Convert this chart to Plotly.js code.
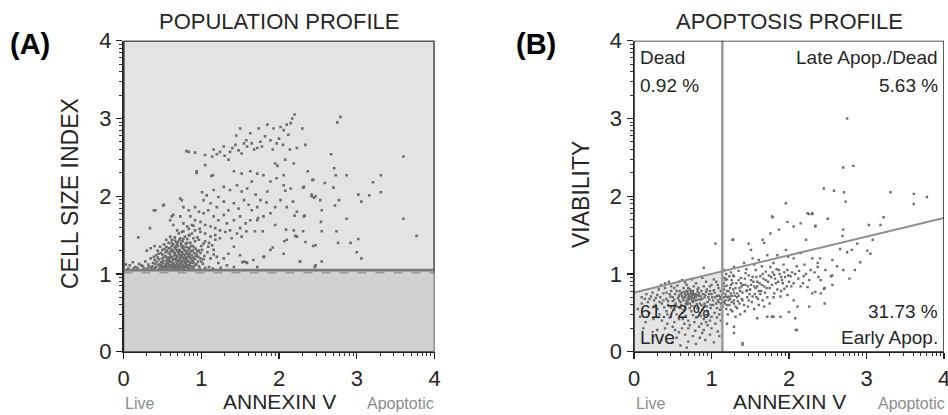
<!DOCTYPE html>
<html>
<head>
<meta charset="utf-8">
<script src="https://cdn.plot.ly/plotly-3.0.1.min.js"></script>
<style>html,body{margin:0;padding:0;background:#fff;}#chart{width:948px;height:415px;}</style>
</head>
<body>
<div id="chart"></div>
<script>
// ---------- DATA ----------
const axisTicks = [0, 1, 2, 3, 4];
const axisTickText = ['0', '1', '2', '3', '4'];

// Panel A: population profile (Annexin V vs Cell Size Index)
const popGateY = 1.05;
const popCluster = [
[0.45,1.12],[0.48,1.15],[0.52,1.10],[0.55,1.13],[0.58,1.17],[0.61,1.11],[0.64,1.14],[0.67,1.19],[0.70,1.12],[0.73,1.16],
[0.76,1.10],[0.79,1.14],[0.82,1.18],[0.85,1.12],[0.88,1.15],[0.92,1.11],[0.50,1.20],[0.54,1.23],[0.57,1.19],[0.60,1.25],
[0.63,1.21],[0.66,1.27],[0.69,1.22],[0.72,1.28],[0.75,1.24],[0.78,1.20],[0.81,1.26],[0.84,1.23],[0.87,1.29],[0.90,1.21],
[0.94,1.25],[0.56,1.30],[0.60,1.33],[0.64,1.29],[0.68,1.35],[0.71,1.31],[0.74,1.37],[0.77,1.33],[0.80,1.39],[0.83,1.34],
[0.86,1.40],[0.89,1.36],[0.93,1.32],[0.62,1.40],[0.66,1.43],[0.70,1.41],[0.73,1.46],[0.76,1.42],[0.79,1.48],[0.82,1.45],
[0.85,1.50],[0.40,1.18],[0.42,1.24],[0.38,1.14],[0.35,1.20],[0.32,1.12],[0.28,1.16],[0.25,1.10],[0.20,1.13],[0.15,1.09],
[0.12,1.15],[0.08,1.11],[0.44,1.30],[0.47,1.35],[0.40,1.36],[0.35,1.33],[0.30,1.30],[0.52,1.38],[0.55,1.44],[0.58,1.40],
[0.48,1.27],[0.53,1.32],[0.96,1.16],[0.99,1.20],[1.02,1.13],[0.97,1.30],[1.00,1.36],[0.92,1.42],[0.95,1.47],[0.88,1.52],
[0.65,1.08],[0.62,1.07],[0.71,1.07],[0.74,1.09],[0.78,1.08],[0.57,1.08],[0.53,1.07],[0.49,1.08],[0.46,1.07],[0.42,1.09],
[0.83,1.08],[0.86,1.07],[0.90,1.08],[0.98,1.07],[1.05,1.08],[1.10,1.09],[1.15,1.07],[1.25,1.08],[0.30,1.07],[0.36,1.08],
[0.26,1.07],[0.18,1.08],[0.06,1.07],[0.03,1.12],[0.68,1.16],[0.65,1.24],[0.59,1.21],[0.70,1.28],[0.79,1.30],[0.83,1.27],
[0.76,1.17],[0.60,1.15],[0.73,1.20],[0.67,1.32],[0.55,1.17],[0.51,1.14],[0.62,1.36],[0.69,1.38],[0.75,1.34],[0.81,1.21],
[0.87,1.19],[0.91,1.27],[0.58,1.27],[0.64,1.19],[0.72,1.24],[0.77,1.26],[0.85,1.33],[0.80,1.13],[0.63,1.12],[0.69,1.10],
[0.56,1.10],[0.47,1.11],[0.44,1.21],[0.50,1.25],[0.66,1.47],[0.60,1.48],[0.71,1.52],[0.77,1.55],[0.84,1.58],[0.90,1.62],
[0.98,1.58],[1.05,1.42],[1.08,1.28],[1.04,1.23],[1.12,1.20],[1.16,1.25],[1.20,1.22],[1.10,1.40],[1.14,1.37],[1.18,1.50],
[0.37,1.10],[0.39,1.22],[0.41,1.13],[0.43,1.16],[0.45,1.26],[0.46,1.19],[0.49,1.12],[0.50,1.31],[0.51,1.17],[0.52,1.22],
[0.54,1.11],[0.54,1.28],[0.55,1.35],[0.56,1.21],[0.57,1.14],[0.58,1.33],[0.59,1.11],[0.59,1.18],[0.61,1.29],[0.61,1.22],
[0.62,1.16],[0.62,1.44],[0.63,1.10],[0.63,1.31],[0.64,1.38],[0.65,1.13],[0.65,1.19],[0.66,1.35],[0.67,1.11],[0.67,1.24],
[0.68,1.41],[0.68,1.20],[0.69,1.14],[0.69,1.30],[0.70,1.17],[0.70,1.36],[0.71,1.25],[0.71,1.11],[0.72,1.44],[0.72,1.19],
[0.73,1.13],[0.73,1.30],[0.74,1.22],[0.74,1.40],[0.75,1.15],[0.75,1.28],[0.76,1.36],[0.76,1.12],[0.77,1.21],[0.77,1.45],
[0.78,1.17],[0.78,1.31],[0.79,1.24],[0.79,1.10],[0.80,1.35],[0.80,1.19],[0.81,1.15],[0.81,1.29],[0.82,1.40],[0.82,1.11],
[0.83,1.22],[0.84,1.16],[0.84,1.31],[0.85,1.26],[0.86,1.14],[0.86,1.21],[0.87,1.36],[0.88,1.10],[0.88,1.24],[0.89,1.30],
[0.89,1.17],[0.90,1.14],[0.91,1.34],[0.92,1.19],[0.93,1.23],[0.94,1.13],[0.95,1.29],[0.96,1.22],[0.97,1.10],[0.99,1.27],
[1.00,1.16],[1.01,1.31],[1.03,1.19],[0.60,1.09],[0.66,1.09],[0.72,1.09],[0.55,1.09],[0.48,1.10],[0.51,1.09],[0.80,1.09],
[0.84,1.10],[0.76,1.08],[0.68,1.08],[0.40,1.08],[0.33,1.09],[0.23,1.11],[0.13,1.07]
];
const popBand = [
[1.29,2.12],[1.37,2.08],[1.46,2.14],[1.52,2.06],[1.59,2.10],[1.65,2.19],[1.70,2.02],[1.76,1.95],[1.85,2.06],[1.22,1.99],
[1.16,2.08],[1.07,2.01],[1.03,1.95],[1.12,1.91],[1.20,1.86],[1.29,1.93],[1.35,1.82],[1.42,1.91],[1.48,1.84],[1.55,1.95],
[1.61,1.89],[1.65,1.82],[1.72,1.86],[0.92,1.86],[0.97,1.80],[1.03,1.78],[1.09,1.82],[1.16,1.74],[1.22,1.69],[1.29,1.76],
[1.33,1.65],[1.42,1.69],[1.50,1.74],[1.57,1.65],[1.63,1.69],[0.75,1.95],[0.77,1.86],[0.84,1.82],[0.86,1.74],[0.92,1.69],
[0.99,1.67],[1.05,1.63],[1.12,1.61],[1.18,1.59],[1.24,1.56],[1.31,1.54],[1.37,1.56],[1.46,1.52],[1.52,1.48],[0.73,1.74],
[0.77,1.65],[0.82,1.61],[0.88,1.63],[0.92,1.56],[0.99,1.54],[1.05,1.52],[1.12,1.48],[1.18,1.44],[1.24,1.46],[0.64,1.76],
[0.60,1.69],[0.41,1.82],[0.52,1.89],[0.64,1.63],[0.69,1.56],[0.75,1.54],[0.84,1.50],[0.90,1.46],[0.97,1.44],[1.03,1.39],
[1.09,1.35],[1.16,1.31],[1.72,1.69],[1.80,1.74],[1.89,1.78],[1.95,1.86],[2.02,1.95],[2.10,1.86],[2.23,1.80],[2.32,1.74],
[2.19,1.56],[2.10,1.44],[2.23,1.48],[2.34,1.41],[2.47,1.37],[2.06,1.26],[1.89,1.31],[1.80,1.22],[1.67,1.18],[1.50,1.24],
[1.42,1.35],[1.55,1.16],[1.72,1.09],[1.59,1.14],[2.27,1.16],[2.47,1.11],[1.35,1.26],[1.29,1.20],[1.22,1.14],[1.33,1.11],
[1.42,1.09],[0.19,1.47],[0.34,1.59],[0.39,1.82],[0.51,1.88],[0.62,1.74],[0.73,1.97],[1.01,2.05],[1.39,1.46],[1.50,1.59]
];
const popArc = [
[2.20,3.05],[2.17,3.00],[2.15,2.94],[1.50,2.87],[1.63,2.81],[1.74,2.87],[1.85,2.92],[1.93,2.87],[2.02,2.89],[2.10,2.92],
[0.84,2.57],[0.92,2.56],[1.05,2.53],[1.14,2.51],[1.16,2.60],[1.24,2.57],[1.29,2.64],[1.37,2.57],[1.44,2.66],[1.48,2.59],
[1.52,2.55],[1.59,2.64],[1.65,2.68],[1.72,2.62],[1.76,2.70],[1.82,2.77],[1.89,2.72],[1.97,2.68],[2.00,2.74],[2.06,2.85],
[2.12,2.79],[2.30,2.87],[2.34,2.66],[2.23,2.62],[2.14,2.60],[1.95,2.42],[1.98,2.39],[2.08,2.47],[2.19,2.42],[2.37,2.32],
[2.44,2.21],[1.35,2.47],[0.94,2.32],[1.05,2.40],[1.15,2.27],[1.42,2.32],[1.52,2.29],[1.63,2.32],[1.72,2.29],[1.80,2.27],
[1.89,2.19],[1.97,2.23],[2.06,2.14],[2.15,2.10],[2.32,2.12],[2.42,2.02],[2.47,2.00],[0.81,2.58],[0.94,2.30],[1.13,2.26],
[1.58,2.72],[1.68,2.60],[1.40,2.62],[1.55,2.68],[1.78,2.64],[1.92,2.60],[2.05,2.66],[1.30,2.52],[1.20,2.54],[1.45,2.78]
];
const popSparse = [
[3.60,2.51],[3.60,1.71],[3.77,1.49],[2.79,3.02],[2.75,2.95],[2.67,2.54],[2.71,2.36],[2.73,2.27],[2.87,2.27],[2.70,2.11],
[2.72,1.88],[2.77,1.95],[2.87,1.71],[3.02,2.02],[3.06,1.93],[3.16,2.01],[3.21,2.18],[3.31,2.27],[3.31,2.05],[3.02,1.45],
[2.92,1.40],[2.76,1.40],[2.74,1.55],[3.00,1.28],[3.06,1.20],[2.55,1.55],[2.44,1.36],[2.46,1.09],[2.55,1.16],[2.27,1.16],
[2.31,1.55],[2.21,1.49],[2.55,1.82],[2.53,1.95],[2.42,2.00],[2.43,2.21],[2.59,2.17],[2.54,1.67],[2.33,1.75],[2.45,1.98],
[2.31,2.11],[2.18,1.93],[2.20,1.75],[2.09,1.57],[2.07,1.42],[1.92,1.34],[1.81,1.22],[1.95,1.63],[1.84,1.92],[2.08,2.07],
[2.06,2.27],[1.58,1.15],[1.53,1.15],[1.69,1.55],[1.58,1.55],[1.79,1.55],[1.73,1.72]
];

// Panel B: apoptosis profile (Annexin V vs Viability)
const apoQuadX = 1.14;
const apoLineY = [0.76, 1.72];   // dividing line at Annexin V = 0 and 4
const apoQuadLabels = ['Dead', '0.92 %', 'Late Apop./Dead', '5.63 %', '61.72 %', 'Live', '31.73 %', 'Early Apop.'];
const apoLive = [
[0.75,0.72],[0.70,0.74],[0.80,0.70],[0.66,0.70],[0.84,0.75],[0.62,0.76],[0.73,0.78],[0.78,0.66],[0.88,0.68],[0.58,0.72],
[0.68,0.66],[0.92,0.73],[0.55,0.78],[0.82,0.80],[0.64,0.82],[0.96,0.70],[1.00,0.74],[1.05,0.70],[1.08,0.66],[1.10,0.72],
[0.50,0.70],[0.46,0.74],[0.42,0.68],[0.38,0.75],[0.34,0.70],[0.30,0.73],[0.26,0.66],[0.22,0.71],[0.18,0.64],[0.14,0.68],
[0.10,0.62],[0.60,0.64],[0.72,0.62],[0.85,0.62],[0.95,0.64],[1.02,0.60],[1.07,0.56],[0.90,0.58],[0.78,0.58],[0.66,0.58],
[0.54,0.62],[0.44,0.60],[0.36,0.62],[0.56,0.85],[0.68,0.86],[0.80,0.88],[0.90,0.84],[1.00,0.86],[1.06,0.90],[0.48,0.84],
[0.40,0.82],[0.32,0.80],[0.95,0.52],[0.85,0.50],[0.74,0.52],[0.62,0.50],[0.52,0.54],[0.42,0.52],[0.30,0.55],[0.20,0.50],
[1.10,0.48],[1.00,0.45],[0.90,0.42],[0.80,0.44],[0.70,0.40],[0.58,0.42],[0.46,0.44],[0.36,0.40],[0.25,0.42],[0.15,0.38],
[1.05,0.36],[0.95,0.34],[0.84,0.32],[0.72,0.34],[0.62,0.30],[0.50,0.32],[0.40,0.30],[0.30,0.28],[1.08,0.26],[0.98,0.22],
[0.88,0.24],[0.76,0.20],[0.66,0.22],[0.55,0.18],[0.45,0.22],[1.03,0.12],[0.92,0.15],[0.80,0.10],[0.70,0.13],[0.60,0.08],
[0.50,0.12],[0.35,0.15],[0.25,0.20],[0.12,0.30],[0.08,0.45],[0.05,0.55],[0.76,0.75],[0.79,0.74],[0.72,0.70],[0.69,0.77],
[0.77,0.69],[0.74,0.76],[0.81,0.73],[0.67,0.73],[0.63,0.69],[0.86,0.71],[0.71,0.67],[0.83,0.67],[0.65,0.77],[0.60,0.74],
[0.87,0.78],[0.93,0.77],[0.98,0.78],[1.03,0.79],[1.12,0.78],[1.12,0.62],[1.11,0.68],[1.09,0.82],[0.58,0.66],[0.52,0.67],
[0.48,0.78],[0.44,0.65],[0.53,0.74],[0.97,0.67],[0.91,0.62],[0.76,0.64],[0.69,0.61],[0.61,0.60],[0.82,0.56],[0.72,0.56],
[0.64,0.54],[0.88,0.54],[0.99,0.56],[0.56,0.58],[0.48,0.57],[0.39,0.57],[0.28,0.60],[0.24,0.76],[0.16,0.74],[0.10,0.70],
[0.35,0.86],[0.45,0.90],[0.62,0.92],[0.75,0.93],[0.88,0.95],[0.93,0.90],[0.70,0.82],[0.77,0.84],[1.04,0.50],[0.93,0.47],
[0.67,0.46],[0.55,0.48],[0.33,0.48],[0.78,0.38],[0.87,0.36],[0.98,0.40],[0.65,0.36],[0.52,0.38],[0.43,0.36],[1.00,0.30],
[0.90,0.28],[0.58,0.25],[0.79,0.27],[1.10,0.20],[0.85,0.18],[0.68,0.05],
[0.71,0.72],[0.73,0.74],[0.77,0.73],[0.79,0.71],[0.74,0.69],[0.70,0.69],[0.66,0.74],[0.68,0.78],[0.72,0.80],[0.76,0.78],
[0.82,0.77],[0.84,0.72],[0.80,0.66],[0.75,0.66],[0.69,0.64],[0.64,0.66],[0.62,0.72],[0.59,0.78],[0.57,0.69],[0.86,0.67],
[0.89,0.74],[0.91,0.70],[0.94,0.80],[0.97,0.74],[1.01,0.70],[1.04,0.76],[1.07,0.72],[1.09,0.64],[1.12,0.70],[1.13,0.58],
[1.11,0.54],[1.06,0.62],[1.02,0.66],[0.99,0.60],[0.94,0.58],[0.87,0.60],[0.81,0.61],[0.74,0.59],[0.67,0.62],[0.60,0.56],
[0.53,0.60],[0.50,0.65],[0.47,0.71],[0.42,0.76],[0.38,0.66],[0.33,0.64],[0.28,0.69],[0.20,0.68],[0.25,0.58],[0.43,0.48],
[0.63,0.42],[0.76,0.47],[0.86,0.46],[0.96,0.48],[1.07,0.44],[1.12,0.40],[0.53,0.28],[0.70,0.30],[0.93,0.38],[0.83,0.82],
[0.66,0.89],[0.52,0.82],[0.58,0.90],[0.40,0.88],[0.98,0.84],[1.03,0.93],[1.08,0.86]
];
const apoDead = [[1.05,1.39],[0.90,1.08]];
const apoEarly = [
[1.18,0.92],[1.25,0.86],[1.29,0.97],[1.38,0.88],[1.44,1.01],[1.51,0.92],[1.57,1.05],[1.63,0.97],[1.70,1.03],[1.76,1.09],
[1.81,0.99],[1.87,1.05],[1.91,0.92],[1.98,1.05],[2.02,0.97],[1.23,0.71],[1.29,0.62],[1.33,0.75],[1.40,0.66],[1.46,0.79],
[1.53,0.71],[1.59,0.84],[1.25,0.54],[1.31,0.45],[1.20,0.36],[1.29,0.32],[1.40,0.11],[1.68,0.58],[1.81,0.75],[1.89,0.71],
[1.98,0.73],[2.06,0.66],[1.94,0.81],[2.06,0.88],[2.15,0.84],[2.19,0.97],[2.28,1.05],[2.37,1.09],[2.41,0.92],[2.45,0.81],
[2.34,0.77],[2.26,0.58],[2.11,0.58],[2.09,0.28],[1.89,0.45],[1.78,0.45],[1.16,1.05],[1.29,1.09],[1.42,1.14],[1.53,1.20],
[1.61,1.18],[1.72,1.24],[1.85,1.24],[2.06,1.20],[2.15,1.27],[2.30,1.20],[2.37,1.14],[2.47,1.05],[2.54,0.97],[2.56,1.18],
[2.78,0.94],[2.56,0.98],[2.56,0.86],[2.46,0.82],[2.46,0.62],[2.41,0.75],[2.30,0.75],[2.24,0.83],[2.08,0.43],[2.10,0.28],
[2.00,0.51],[1.40,0.09],[1.72,0.45],[1.80,0.45],[1.59,0.43],[1.29,0.24],[2.92,1.15],[2.75,1.28],[2.66,1.32],
[1.16,0.80],[1.18,0.74],[1.20,0.85],[1.22,0.78],[1.24,0.68],[1.26,0.92],[1.28,0.80],[1.30,0.72],[1.32,0.88],[1.34,0.65],
[1.36,0.82],[1.38,0.95],[1.40,0.76],[1.42,0.60],[1.44,0.86],[1.46,0.70],[1.48,0.98],[1.50,0.80],[1.52,0.64],[1.54,0.90],
[1.56,0.74],[1.58,0.96],[1.60,0.68],[1.62,0.88],[1.64,0.78],[1.66,1.00],[1.68,0.84],[1.70,0.92],[1.72,0.70],[1.74,0.98],
[1.78,0.86],[1.82,0.94],[1.85,0.80],[1.88,1.00],[1.92,0.88],[1.95,0.96],[2.00,0.90],[2.04,1.02],[1.17,0.62],[1.19,0.55],
[1.21,0.48],[1.23,0.60],[1.27,0.52],[1.33,0.56],[1.37,0.48],[1.43,0.52],[1.47,0.58],[1.55,0.55],[1.61,0.60],[1.17,0.95],
[1.19,1.00],[1.23,0.97],[1.16,0.70],[1.18,0.66],[1.15,0.58],[1.16,0.88],[1.21,0.70],[1.25,0.75],[1.29,0.66],[1.35,0.72],
[1.39,0.84],[1.45,0.78],[1.51,0.86],[1.57,0.82],[1.63,0.74],[1.69,0.76],[1.75,0.82],[1.80,0.70],[1.86,0.90],[1.90,0.78],
[1.97,0.84],[2.12,0.94],[2.18,0.88],[2.22,1.00],[2.26,0.92],[2.33,1.02],[2.38,0.96],[2.20,1.12],[2.10,1.10],[1.93,1.12],
[1.80,1.14],[1.65,1.10],[1.55,1.12],[1.45,1.06],[1.35,1.04],[1.25,1.02],[1.99,1.22],[2.40,1.20],[2.62,1.10],[2.70,1.05],[2.85,1.05],
[1.15,0.76],[1.17,0.84],[1.19,0.71],[1.20,0.78],[1.22,0.66],[1.24,0.82],[1.26,0.72],[1.27,0.88],[1.29,0.76],[1.31,0.82],
[1.33,0.70],[1.35,0.92],[1.37,0.78],[1.39,0.68],[1.41,0.86],[1.43,0.94],[1.47,0.84],[1.49,0.74],[1.53,0.96],[1.55,0.84],
[1.59,0.90],[1.61,0.78],[1.65,0.86],[1.67,0.94],[1.71,0.82],[1.73,0.90],[1.77,0.96],[1.79,1.02],[1.83,0.88],[1.84,1.06],
[1.90,0.96],[1.94,1.02],[1.99,0.98],[2.03,0.84],[2.08,1.00],[2.13,1.04],[1.16,0.64],[1.20,0.60],[1.26,0.64],[1.31,0.58],
[1.36,0.62],[1.48,0.66],[1.58,0.70],[1.66,0.66],[1.75,0.62],[1.20,0.93],[1.28,0.98]
];
const apoLate = [
[1.27,1.44],[1.66,1.44],[1.76,1.52],[1.87,1.57],[1.96,1.91],[1.98,1.67],[2.06,1.61],[2.15,1.65],[2.24,1.78],[2.30,1.78],
[2.34,1.61],[1.78,1.74],[2.22,1.44],[2.45,2.10],[1.51,1.31],[2.75,3.00],[2.70,2.37],[2.83,2.39],[2.58,2.07],[2.71,2.05],
[2.73,1.93],[3.31,2.05],[3.61,2.03],[3.61,1.90],[3.78,1.99],[3.22,1.73],[3.18,1.63],[3.03,1.63],[3.08,1.44],[2.70,1.57],
[2.69,1.49],[2.50,1.71],[2.26,1.77],[2.30,1.77],[2.34,1.62],[2.88,1.39],[2.81,1.31],[3.01,1.30],[3.05,1.26],[1.79,1.73],
[1.68,1.40],[1.48,1.39],[1.28,1.44],[1.96,1.31]
];

// ---------- LAYOUT HELPERS ----------
const W = 948, H = 415;
const fx = p => p / W;          // pixel x -> paper
const fy = p => 1 - p / H;      // pixel y -> paper
const FONT = 'Arial, "Liberation Sans", sans-serif';
const PT = '#6c6c6c';
const TXT = '#262626';

const minorVals = [];
for (let d = 0; d < 4; d++) for (let k = 2; k <= 9; k++) minorVals.push(d + Math.log10(k));

function axis(domain, anchor) {
  return {
    domain: domain, anchor: anchor, range: [0, 4], autorange: false,
    tickmode: 'array', tickvals: axisTicks, ticktext: axisTickText,
    ticks: 'outside', ticklen: 6, tickwidth: 1.3, tickcolor: '#222',
    minor: {tickmode: 'array', tickvals: minorVals, ticks: 'outside', ticklen: 3, tickwidth: 1, tickcolor: '#333', showgrid: false},
    showline: true, linecolor: '#222', linewidth: 1.5,
    showgrid: false, zeroline: false, fixedrange: true,
    ticklabeloverflow: 'allow',
    tickfont: {family: FONT, size: 22, color: TXT}
  };
}

const xs = a => a.map(p => p[0]);
const ys = a => a.map(p => p[1]);
const popAll = popCluster.concat(popBand, popArc, popSparse);
const apoAll = apoLive.concat(apoDead, apoEarly, apoLate);

const traces = [
  {type: 'scatter', mode: 'markers', x: xs(popAll), y: ys(popAll), xaxis: 'x', yaxis: 'y',
   marker: {symbol: 'square', size: 2.6, color: PT, line: {width: 0}}, hoverinfo: 'skip'},
  {type: 'scatter', mode: 'markers', x: xs(apoAll), y: ys(apoAll), xaxis: 'x2', yaxis: 'y2',
   marker: {symbol: 'square', size: 2.4, color: PT, line: {width: 0}}, hoverinfo: 'skip'}
];

const lineAt = x => apoLineY[0] + (apoLineY[1] - apoLineY[0]) * x / 4;

const shapes = [
  // Panel A backgrounds
  {type: 'rect', xref: 'x', yref: 'y', x0: 0, x1: 4, y0: 0, y1: popGateY, fillcolor: '#d1d1d1', line: {width: 0}, layer: 'below'},
  {type: 'rect', xref: 'x', yref: 'y', x0: 0, x1: 4, y0: popGateY, y1: 4, fillcolor: '#e3e3e3', line: {width: 0}, layer: 'below'},
  {type: 'rect', xref: 'x', yref: 'y', x0: 0, x1: 4, y0: popGateY, y1: 4, line: {color: '#555', width: 2.2}, layer: 'above'},
  {type: 'line', xref: 'x', yref: 'y', x0: 0, x1: 4, y0: popGateY, y1: popGateY, line: {color: '#7a7a7a', width: 2.5}},
  {type: 'line', xref: 'x', yref: 'y', x0: 0, x1: 4, y0: popGateY - 0.035, y1: popGateY - 0.035, line: {color: '#999', width: 1.5, dash: 'dash'}},
  {type: 'rect', xref: 'x', yref: 'y', x0: 0, x1: 4, y0: 0, y1: 4, line: {color: '#333', width: 1.5}},
  // Panel B live region + gates
  {type: 'path', xref: 'x2', yref: 'y2',
   path: `M 0 0 L ${apoQuadX} 0 L ${apoQuadX} ${lineAt(apoQuadX)} L 0 ${apoLineY[0]} Z`,
   fillcolor: '#e4e4e4', line: {width: 0}, layer: 'below'},
  {type: 'line', xref: 'x2', yref: 'y2', x0: apoQuadX, x1: apoQuadX, y0: 0, y1: 4, line: {color: '#999', width: 2.5}},
  {type: 'line', xref: 'x2', yref: 'y2', x0: 0, x1: 4, y0: apoLineY[0], y1: apoLineY[1], line: {color: '#8f8f8f', width: 2}},
  {type: 'rect', xref: 'x2', yref: 'y2', x0: 0, x1: 4, y0: 0, y1: 4, line: {color: '#222', width: 1.5}}
];

function ann(text, x, y, opts) {
  return Object.assign({text: text, xref: 'paper', yref: 'paper', x: fx(x), y: fy(y), showarrow: false,
    xanchor: 'center', yanchor: 'middle', font: {family: FONT, size: 20, color: TXT}}, opts || {});
}
const f = (size, color) => ({family: FONT, size: size, color: color || TXT});

const annotations = [
  ann('<b>(A)</b>', 8, 44, {xanchor: 'left', font: f(29, '#000')}),
  ann('<b>(B)</b>', 514, 44, {xanchor: 'left', font: f(29, '#000')}),
  ann('POPULATION PROFILE', 279, 21, {font: f(22)}),
  ann('APOPTOSIS PROFILE', 789, 21, {font: f(22)}),
  ann('CELL SIZE INDEX', 70, 194, {textangle: -90, font: f(23)}),
  ann('VIABILITY', 581, 195, {textangle: -90, font: f(23)}),
  ann('ANNEXIN V', 279, 401, {font: f(21)}),
  ann('ANNEXIN V', 789, 401, {font: f(21)}),
  ann('Live', 123, 403, {xanchor: 'left', font: f(16, '#8c8c8c')}),
  ann('Apoptotic', 436, 403, {xanchor: 'right', font: f(16, '#8c8c8c')}),
  ann('Live', 634, 403, {xanchor: 'left', font: f(16, '#8c8c8c')}),
  ann('Apoptotic', 947, 403, {xanchor: 'right', font: f(16, '#8c8c8c')}),
  ann(apoQuadLabels[0], 638, 58, {xanchor: 'left', font: f(19)}),
  ann(apoQuadLabels[1], 638, 85, {xanchor: 'left', font: f(19)}),
  ann(apoQuadLabels[2], 940, 58, {xanchor: 'right', font: f(19)}),
  ann(apoQuadLabels[3], 940, 85, {xanchor: 'right', font: f(19)}),
  ann(apoQuadLabels[4], 638, 311, {xanchor: 'left', font: f(19)}),
  ann(apoQuadLabels[5], 638, 337, {xanchor: 'left', font: f(19)}),
  ann(apoQuadLabels[6], 940, 311, {xanchor: 'right', font: f(19)}),
  ann(apoQuadLabels[7], 940, 337, {xanchor: 'right', font: f(19)})
];

const layout = {
  width: W, height: H, margin: {l: 0, r: 0, t: 0, b: 0},
  paper_bgcolor: '#fff', plot_bgcolor: '#fff', showlegend: false,
  xaxis: axis([fx(123.5), fx(434.5)], 'y'),
  yaxis: axis([fy(351.7), fy(40.7)], 'x'),
  xaxis2: axis([fx(634), fx(944)], 'y2'),
  yaxis2: axis([fy(351.7), fy(40.7)], 'x2'),
  shapes: shapes, annotations: annotations
};

Plotly.newPlot('chart', traces, layout, {staticPlot: true, displayModeBar: false});
</script>
</body>
</html>
